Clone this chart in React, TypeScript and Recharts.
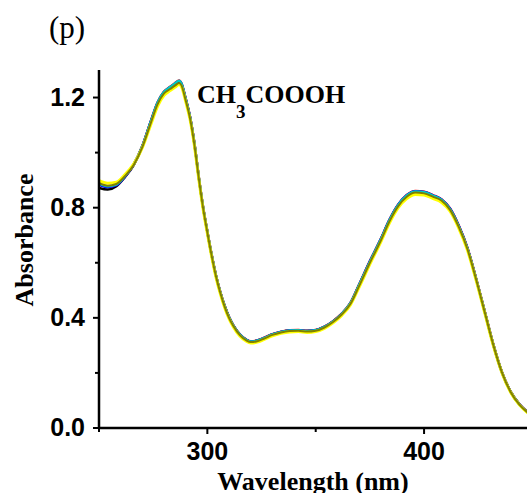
import React from "react";
import { LineChart, Line, XAxis, YAxis, Label } from "recharts";

const wavelengths = [250,254,258,262,266,270,274,277,280,283,285,287,288,290,292,294,296,298,300,302,304,306,308,310,312,315,318,320,323,326,330,334,338,342,346,350,354,358,362,366,370,375,380,384,388,392,396,400,404,408,412,416,420,424,428,432,436,440,444,448];

const absBlack = [0.872,0.866,0.878,0.912,0.955,1.022,1.113,1.178,1.218,1.236,1.247,1.257,1.249,1.193,1.128,1.033,0.912,0.802,0.712,0.627,0.552,0.492,0.442,0.402,0.372,0.339,0.320,0.314,0.317,0.326,0.340,0.349,0.354,0.355,0.352,0.355,0.367,0.387,0.414,0.452,0.518,0.603,0.683,0.753,0.808,0.843,0.858,0.855,0.843,0.829,0.795,0.733,0.652,0.542,0.422,0.302,0.201,0.131,0.086,0.056];
const absRed = [0.886,0.876,0.883,0.914,0.957,1.024,1.116,1.182,1.222,1.240,1.252,1.262,1.253,1.196,1.130,1.035,0.914,0.804,0.713,0.628,0.553,0.493,0.443,0.403,0.373,0.340,0.321,0.315,0.318,0.327,0.341,0.350,0.355,0.356,0.353,0.356,0.368,0.388,0.415,0.454,0.520,0.606,0.686,0.756,0.811,0.846,0.861,0.858,0.846,0.831,0.797,0.735,0.654,0.543,0.423,0.302,0.201,0.131,0.086,0.056];
const absBlue = [0.885,0.875,0.882,0.913,0.956,1.023,1.115,1.180,1.220,1.238,1.250,1.260,1.251,1.195,1.129,1.034,0.913,0.803,0.712,0.627,0.552,0.492,0.442,0.402,0.372,0.339,0.320,0.314,0.317,0.326,0.340,0.349,0.354,0.355,0.352,0.355,0.367,0.387,0.414,0.453,0.519,0.605,0.685,0.755,0.810,0.845,0.860,0.857,0.845,0.830,0.796,0.734,0.653,0.542,0.422,0.301,0.201,0.131,0.086,0.056];
const absCyan = [0.887,0.878,0.884,0.915,0.957,1.023,1.115,1.181,1.221,1.239,1.251,1.261,1.252,1.195,1.129,1.034,0.913,0.803,0.712,0.627,0.552,0.492,0.442,0.402,0.372,0.339,0.320,0.314,0.317,0.326,0.340,0.349,0.354,0.355,0.352,0.355,0.367,0.387,0.414,0.453,0.519,0.604,0.684,0.754,0.809,0.844,0.859,0.856,0.844,0.829,0.795,0.733,0.652,0.541,0.421,0.301,0.200,0.130,0.085,0.055];
const absYellow = [0.898,0.889,0.893,0.920,0.958,1.018,1.104,1.168,1.208,1.226,1.237,1.247,1.240,1.186,1.121,1.027,0.907,0.797,0.707,0.622,0.547,0.487,0.437,0.397,0.367,0.334,0.315,0.309,0.312,0.321,0.335,0.344,0.349,0.350,0.347,0.350,0.362,0.382,0.409,0.447,0.511,0.595,0.675,0.744,0.799,0.833,0.848,0.846,0.834,0.820,0.787,0.726,0.646,0.537,0.418,0.298,0.199,0.129,0.084,0.054];
const absOlive = [0.890,0.880,0.886,0.915,0.955,1.020,1.110,1.175,1.215,1.232,1.243,1.253,1.245,1.190,1.125,1.030,0.910,0.800,0.710,0.625,0.550,0.490,0.440,0.400,0.370,0.337,0.318,0.312,0.315,0.324,0.338,0.347,0.352,0.353,0.350,0.353,0.365,0.385,0.412,0.450,0.515,0.600,0.680,0.750,0.805,0.840,0.855,0.852,0.840,0.826,0.792,0.730,0.650,0.540,0.420,0.300,0.200,0.130,0.085,0.055];

const xTicks = [250, 300, 350, 400];
const xMajor = [300, 400];
const yTicks = [0, 0.2, 0.4, 0.6, 0.8, 1.0, 1.2];
const yMajor = [0, 0.4, 0.8, 1.2];

const series = [
  { key: "black", values: absBlack, color: "#000000", width: 2.5 },
  { key: "red", values: absRed, color: "#ff0000", width: 2.5 },
  { key: "blue", values: absBlue, color: "#0000ff", width: 2.5 },
  { key: "cyan", values: absCyan, color: "#00c8c8", width: 2.5 },
  { key: "yellow", values: absYellow, color: "#ffff00", width: 3 },
  { key: "olive", values: absOlive, color: "#808000", width: 2 },
];

const data = wavelengths.map((w, i) => {
  const row: Record<string, number> = { w };
  series.forEach((s) => {
    row[s.key] = s.values[i];
  });
  return row;
});

const TICK_SIZE = 6;
const TICK_MARGIN = 8;
const tickFont = "'Liberation Sans', Arial, sans-serif";
const serifFont = "'Liberation Serif', 'Times New Roman', serif";

const XTick = (props: any) => {
  const { x, y, payload } = props;
  const axisY = y - TICK_SIZE - TICK_MARGIN;
  const major = xMajor.includes(payload.value);
  return (
    <g>
      <line x1={x} x2={x} y1={axisY} y2={axisY + (major ? 6 : 4)} stroke="#000" strokeWidth={2} />
      {major && (
        <text x={x} y={axisY + 32} textAnchor="middle" fontFamily={tickFont} fontWeight="bold" fontSize={25} fill="#000">
          {payload.value}
        </text>
      )}
    </g>
  );
};

const YTick = (props: any) => {
  const { x, y, payload } = props;
  const axisX = x + TICK_SIZE + TICK_MARGIN;
  const v = Math.round(payload.value * 10) / 10;
  const major = yMajor.some((m) => Math.abs(m - v) < 1e-6);
  return (
    <g>
      <line x1={axisX - (major ? 6 : 4)} x2={axisX} y1={y} y2={y} stroke="#000" strokeWidth={2} />
      {major && (
        <text x={x} y={y + 8} textAnchor="end" fontFamily={tickFont} fontWeight="bold" fontSize={25} fill="#000">
          {v.toFixed(1)}
        </text>
      )}
    </g>
  );
};

const XTitle = (props: any) => {
  const vb = props.viewBox || { x: 99, width: 428 };
  return (
    <text x={vb.x + vb.width / 2} y={490} textAnchor="middle" fontFamily={serifFont} fontWeight="bold" fontSize={26} fill="#000">
      Wavelength (nm)
    </text>
  );
};

const YTitle = () => (
  <text transform="translate(33,240) rotate(-90)" textAnchor="middle" fontFamily={serifFont} fontWeight="bold" fontSize={26} fill="#000">
    Absorbance
  </text>
);

export default function App() {
  return (
    <div style={{ position: "absolute", left: 0, top: 0, width: 527, height: 493, background: "#fff", overflow: "hidden" }}>
      <LineChart width={527} height={493} data={data} margin={{ top: 70, right: 0, bottom: 0, left: 0 }}>
        <XAxis
          dataKey="w"
          type="number"
          domain={[250, 447.5]}
          allowDataOverflow
          ticks={xTicks}
          interval={0}
          height={65}
          tickSize={TICK_SIZE}
          tickMargin={TICK_MARGIN}
          tickLine={false}
          tick={<XTick />}
          axisLine={{ stroke: "#000", strokeWidth: 2.5 }}
          label={<Label content={<XTitle />} />}
        />
        <YAxis
          type="number"
          domain={[0, 1.3]}
          allowDataOverflow
          ticks={yTicks}
          interval={0}
          width={99}
          tickSize={TICK_SIZE}
          tickMargin={TICK_MARGIN}
          tickLine={false}
          tick={<YTick />}
          axisLine={{ stroke: "#000", strokeWidth: 2.5 }}
          label={<Label content={<YTitle />} />}
        />
        {series.map((s) => (
          <Line
            key={s.key}
            dataKey={s.key}
            type="monotone"
            stroke={s.color}
            strokeWidth={s.width}
            dot={false}
            activeDot={false}
            isAnimationActive={false}
          />
        ))}
      </LineChart>
      <svg width={527} height={493} style={{ position: "absolute", left: 0, top: 0, pointerEvents: "none" }}>
        <text x={49} y={38} fontFamily={serifFont} fontSize={31} fill="#000">
          (p)
        </text>
        <text x={197} y={103} fontFamily={serifFont} fontWeight="bold" fontSize={26} fill="#000">
          CH
          <tspan dy={15} fontSize={19}>3</tspan>
          <tspan dy={-15}>COOOH</tspan>
        </text>
      </svg>
    </div>
  );
}
